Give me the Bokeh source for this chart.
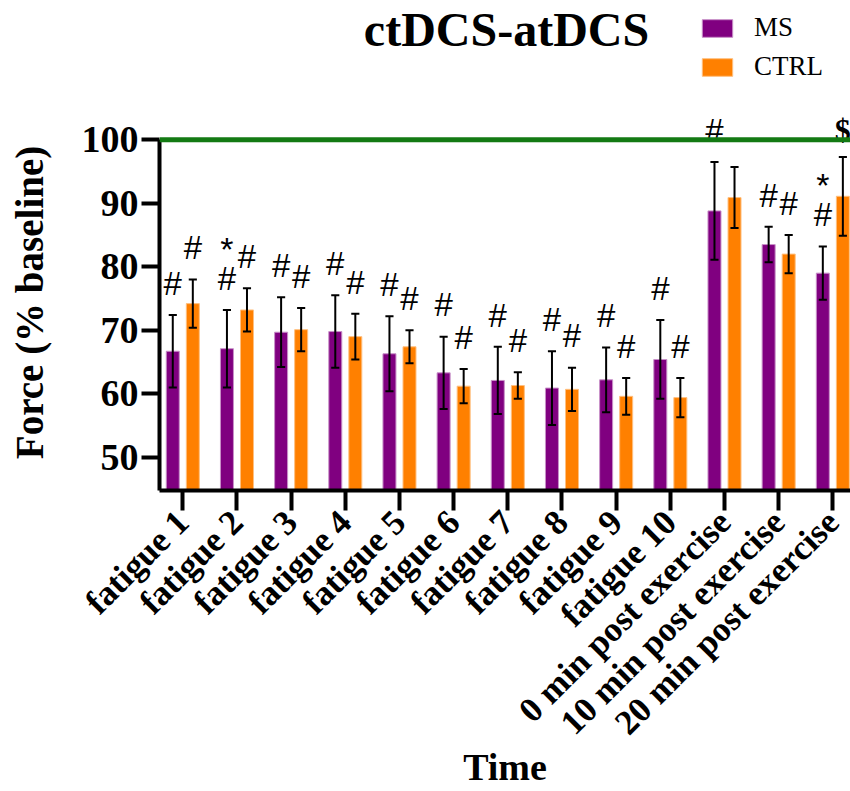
import math
from bokeh.plotting import figure
from bokeh.layouts import column
from bokeh.models import Range1d, FixedTicker, Span, Label, Legend, LegendItem
from bokeh.core.properties import value
from bokeh.embed import file_html
from bokeh.resources import INLINE

categories = ["fatigue 1", "fatigue 2", "fatigue 3", "fatigue 4", "fatigue 5",
              "fatigue 6", "fatigue 7", "fatigue 8", "fatigue 9", "fatigue 10",
              "0 min post exercise", "10 min post exercise", "20 min post exercise"]
ms_mean = [66.7, 67.1, 69.7, 69.8, 66.3, 63.3, 62.1, 60.9, 62.2, 65.4, 88.8, 83.5, 79.0]
ms_err = [5.7, 6.1, 5.5, 5.7, 5.9, 5.7, 5.3, 5.8, 5.1, 6.2, 7.7, 2.8, 4.2]
ctrl_mean = [74.2, 73.2, 70.1, 69.0, 67.4, 61.2, 61.3, 60.7, 59.6, 59.4, 90.9, 82.0, 91.1]
ctrl_err = [3.8, 3.4, 3.4, 3.6, 2.6, 2.7, 2.1, 3.4, 2.9, 3.1, 4.8, 3.0, 6.2]
ms_hash = ["#"] * 13
ms_star = ["", "*", "", "", "", "", "", "", "", "", "", "", "*"]
ctrl_hash = ["#"] * 10 + ["", "#", ""]
ctrl_dollar = [""] * 12 + ["$"]
baseline = 100
y_ticks = [50, 60, 70, 80, 90, 100]
series_names = ["MS", "CTRL"]

PURPLE = "#800080"
ORANGE = "#FF8000"
SERIF = "Liberation Serif"
SANS = "Liberation Sans"

n = len(categories)
xc = list(range(1, n + 1))
off = 0.185
bw = 0.24
cap = 0.075
x_ms = [x - off for x in xc]
x_ct = [x + off for x in xc]

# ---------- header (title + legend); frame aligned with the chart's frame ----------
head = figure(width=850, height=100, output_backend="svg", toolbar_location=None,
              x_range=Range1d(159, 850), y_range=Range1d(0, 100),
              x_axis_location=None, y_axis_location=None,
              min_border_left=159, min_border_right=0, min_border_top=0, min_border_bottom=0)
head.grid.visible = False
head.outline_line_color = None
head.add_layout(Label(x=506, y=71, text="ctDCS-atDCS", text_font=SERIF,
                      text_font_style="bold", text_font_size="48px", text_align="center",
                      text_baseline="middle", text_color="black"))
# hidden legend proxies for the two series
lr_ms = head.vbar(x=x_ms, top=ms_mean, width=bw, fill_color=PURPLE, line_color="#c890c8",
                  visible=False)
lr_ct = head.vbar(x=x_ct, top=ctrl_mean, width=bw, fill_color=ORANGE, line_color="#ffc080",
                  visible=False)
legend = Legend(items=[LegendItem(label=series_names[0], renderers=[lr_ms]),
                       LegendItem(label=series_names[1], renderers=[lr_ct])],
                location=(539, 18), padding=0, margin=0, spacing=8,
                glyph_width=38, glyph_height=22, label_height=22, label_standoff=18,
                label_text_font=SERIF, label_text_font_size="27px",
                label_text_color="black", inactive_fill_alpha=0,
                border_line_color=None, background_fill_alpha=0)
head.add_layout(legend)

# ---------- main chart ----------
p = figure(width=850, height=691, output_backend="svg", toolbar_location=None,
           x_range=Range1d(0.570, 13.326), y_range=Range1d(44.77, 103.98),
           min_border_left=159, min_border_right=0, min_border_top=14,
           min_border_bottom=301)
p.outline_line_color = None
p.xgrid.grid_line_color = None
p.ygrid.grid_line_color = None

p.add_layout(Span(location=baseline, dimension="width", line_color="#137a13", line_width=5))

p.vbar(x=x_ms, top=ms_mean, bottom=0, width=bw, fill_color=PURPLE,
       line_color="#c890c8", line_width=1)
p.vbar(x=x_ct, top=ctrl_mean, bottom=0, width=bw, fill_color=ORANGE,
       line_color="#ffc080", line_width=1)

for xs, m, e in ((x_ms, ms_mean, ms_err), (x_ct, ctrl_mean, ctrl_err)):
    lo = [a - b for a, b in zip(m, e)]
    hi = [a + b for a, b in zip(m, e)]
    p.segment(x0=xs, y0=lo, x1=xs, y1=hi, line_color="black", line_width=2)
    p.segment(x0=[x - cap for x in xs], y0=lo, x1=[x + cap for x in xs], y1=lo,
              line_color="black", line_width=2)
    p.segment(x0=[x - cap for x in xs], y0=hi, x1=[x + cap for x in xs], y1=hi,
              line_color="black", line_width=2)

gap = 5.0
star_gap = 4.6
ms_hash_y = [a + b + gap for a, b in zip(ms_mean, ms_err)]
ct_hash_y = [a + b + gap for a, b in zip(ctrl_mean, ctrl_err)]
p.text(x=x_ms, y=ms_hash_y, text=ms_hash, text_font=value(SANS), text_font_size="33px",
       text_align="center", text_baseline="middle", text_color="black")
p.text(x=x_ms, y=[y + star_gap for y in ms_hash_y], text=ms_star, text_font=value(SANS),
       text_font_size="34px", text_align="center", text_baseline="middle", text_color="black")
p.text(x=x_ct, y=ct_hash_y, text=ctrl_hash, text_font=value(SANS), text_font_size="33px",
       text_align="center", text_baseline="middle", text_color="black")
p.text(x=x_ct, y=[a + b + 4.2 for a, b in zip(ctrl_mean, ctrl_err)], text=ctrl_dollar,
       text_font=value(SERIF), text_font_style="bold", text_font_size="32px",
       text_align="center", text_baseline="middle", text_color="black")

ax = p.xaxis[0]
ax.ticker = FixedTicker(ticks=xc)
ax.major_label_overrides = {i + 1: c for i, c in enumerate(categories)}
ax.major_label_orientation = math.pi / 4
ax.major_label_text_font = SERIF
ax.major_label_text_font_style = "bold"
ax.major_label_text_font_size = "35px"
ax.major_label_text_color = "black"
ax.major_label_standoff = 6
ax.axis_line_width = 4
ax.major_tick_line_width = 4
ax.major_tick_out = 20
ax.major_tick_in = 0
ax.minor_tick_line_color = None
ax.axis_label = "Time"
ax.axis_label_text_font = SERIF
ax.axis_label_text_font_style = "bold"
ax.axis_label_text_font_size = "38px"
ax.axis_label_text_color = "black"
ax.axis_label_standoff = -13

ay = p.yaxis[0]
ay.ticker = FixedTicker(ticks=y_ticks)
ay.bounds = (44.77, baseline)
ay.major_label_text_font = SERIF
ay.major_label_text_font_style = "bold"
ay.major_label_text_font_size = "38px"
ay.major_label_text_color = "black"
ay.major_label_standoff = 3
ay.axis_line_width = 4
ay.major_tick_line_width = 4
ay.major_tick_out = 18
ay.major_tick_in = 0
ay.minor_tick_line_color = None
ay.axis_label = "Force (% baseline)"
ay.axis_label_text_font = SERIF
ay.axis_label_text_font_style = "bold"
ay.axis_label_text_font_size = "39px"
ay.axis_label_text_color = "black"
ay.axis_label_standoff = 28

layout = column(head, p)
open("out.html", "w").write(file_html(layout, INLINE))
